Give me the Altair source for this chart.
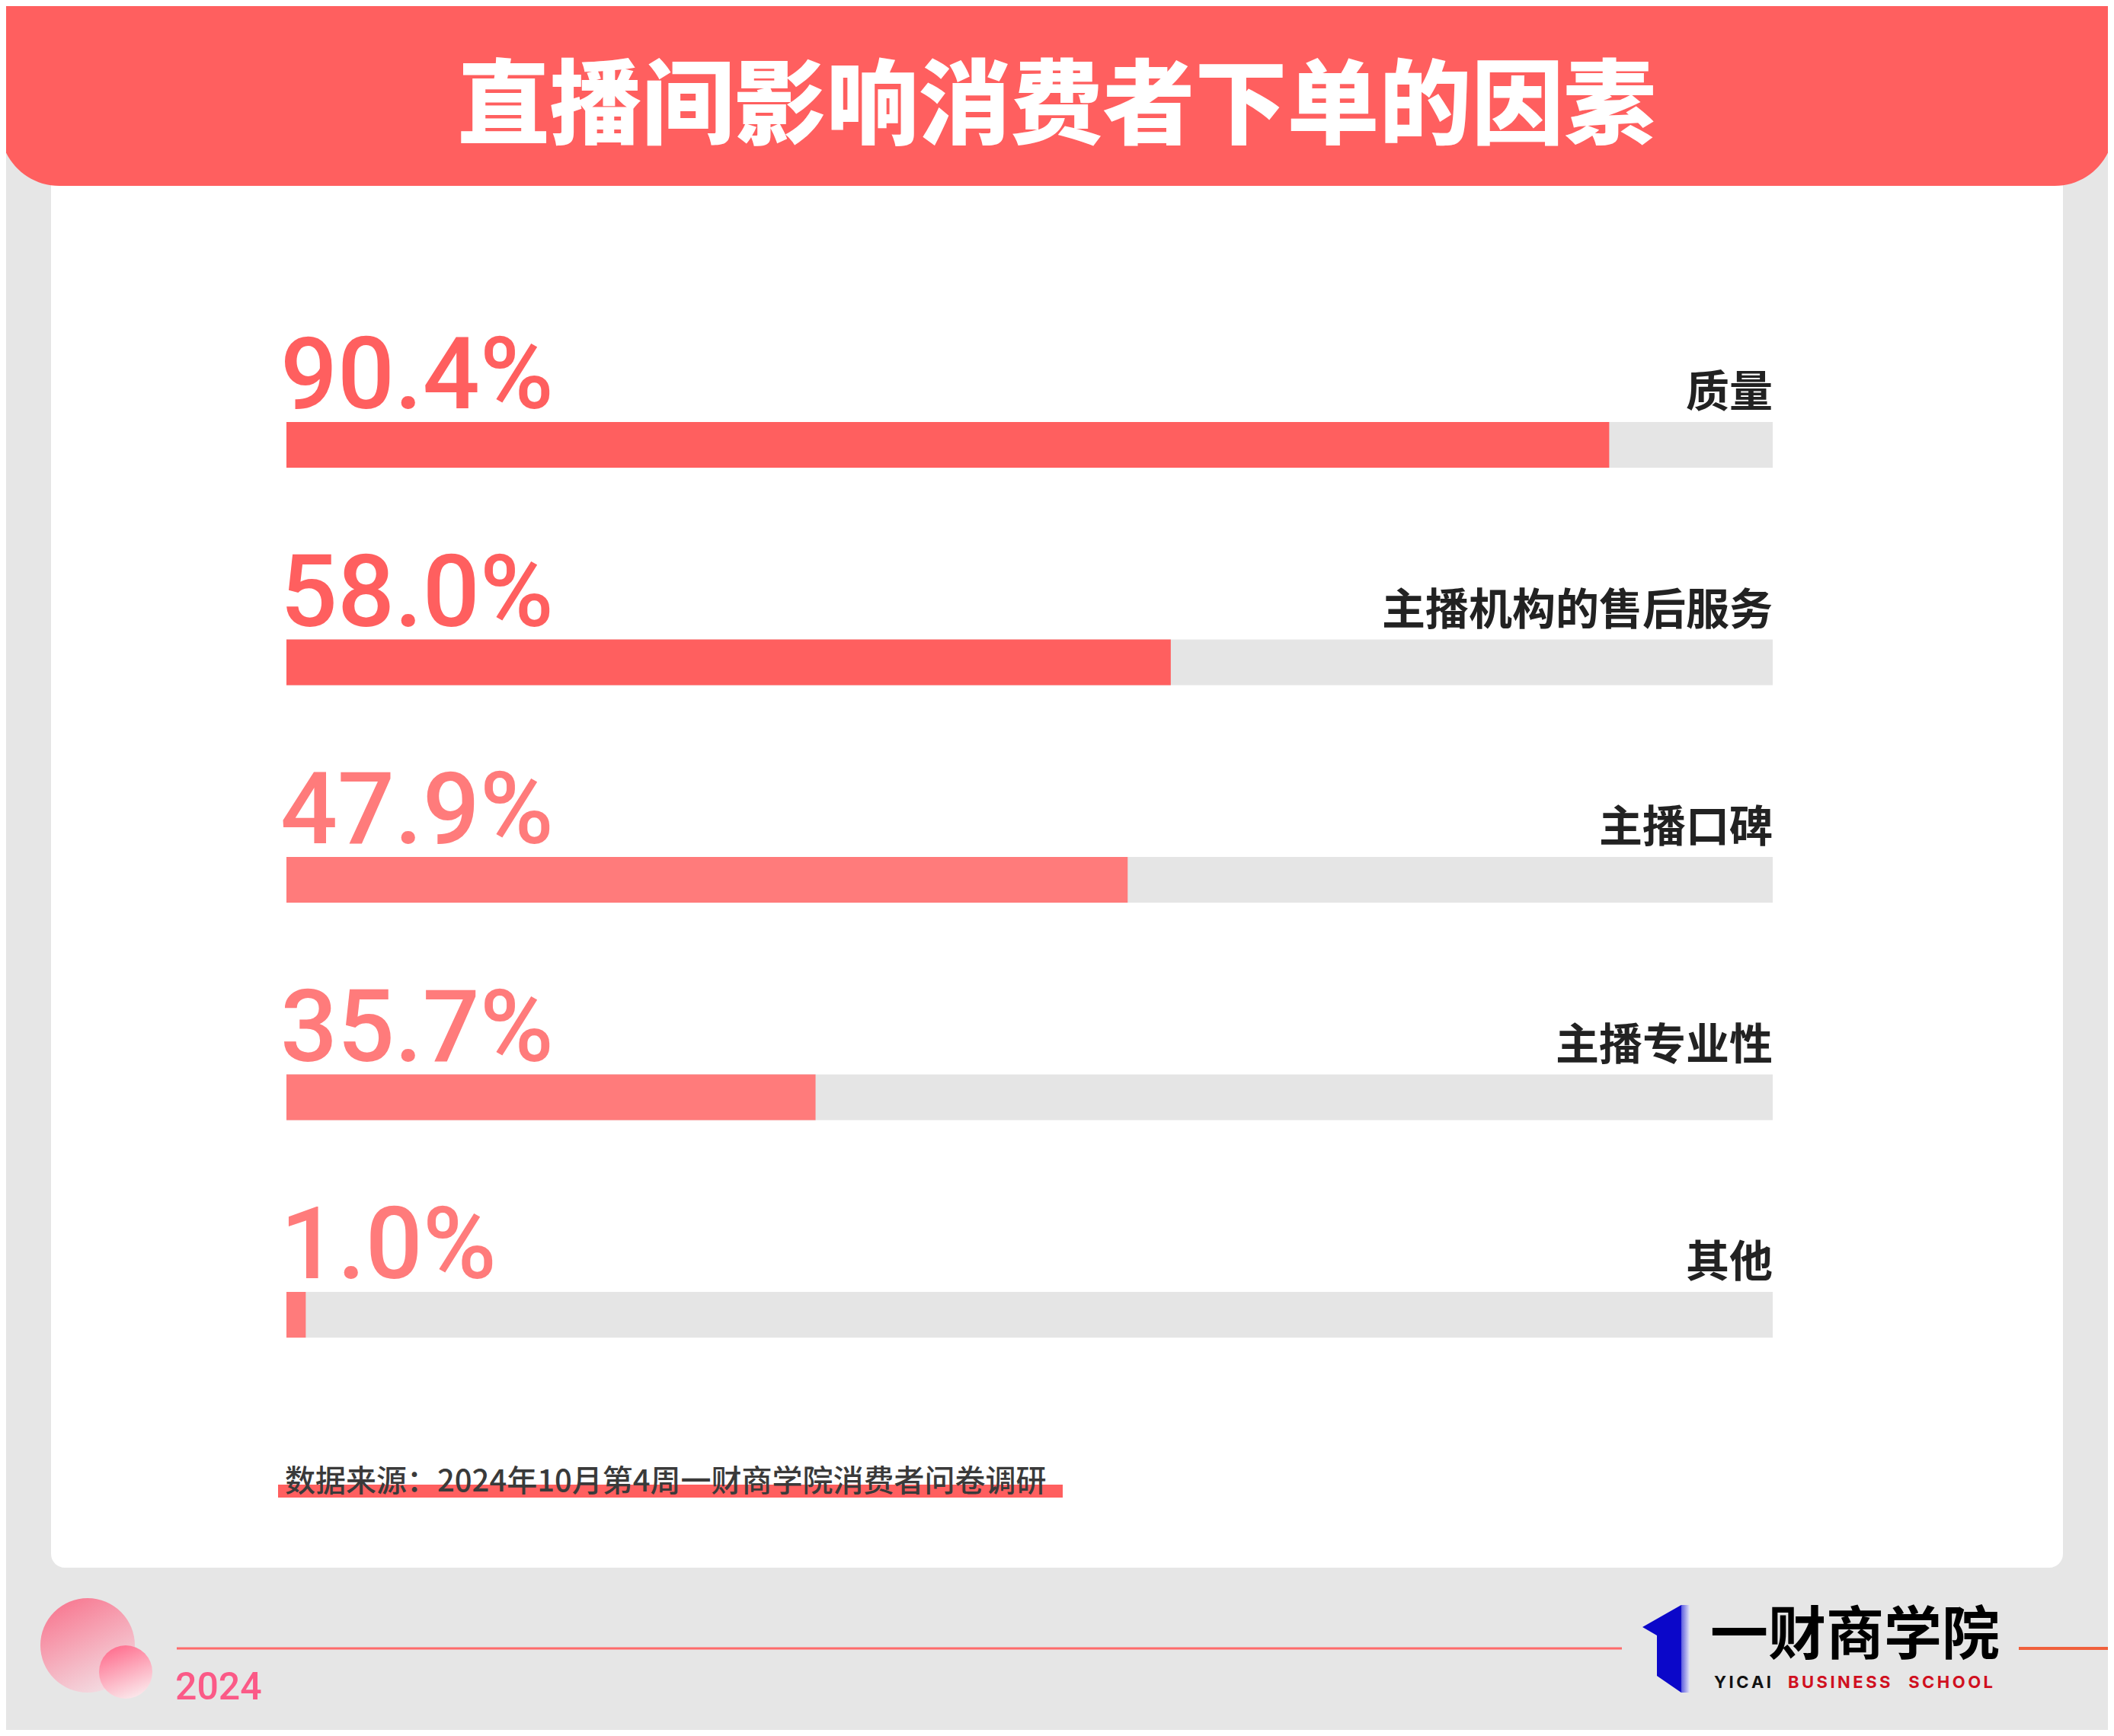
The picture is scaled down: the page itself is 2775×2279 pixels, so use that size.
import altair as alt
import pandas as pd

# ---- data ----
categories = ["质量", "主播机构的售后服务", "主播口碑", "主播专业性", "其他"]
values = [90.4, 58.0, 47.9, 35.7, 1.0]          # printed percentages
bar_lengths = [89.0, 59.5, 56.6, 35.6, 1.3]     # drawn bar lengths (% of track)

title_text = "直播间影响消费者下单的因素"
source_text = "数据来源：2024年10月第4周一财商学院消费者问卷调研"
year_text = "2024"
logo_cn = "一财商学院"
TS = "\u2009"  # thin space used as letter spacing
logo_en = ["YICAI", "BUSINESS", "SCHOOL"]

df = pd.DataFrame({"category": categories, "value": values, "bar": bar_lengths})

W, H = 2759, 2263
OFF = 8  # page margin offset

CJK = "Noto Sans CJK SC"
NUM = "Roboto"

xs = alt.Scale(domain=[0, 100], range=[376 - OFF, 2327 - OFF], nice=False, zero=False)
ys = alt.Scale(domain=[1, 5], range=[579 - OFF, 1731 - OFF], nice=False, zero=False)

base = alt.Chart(df).transform_window(row="row_number()").transform_calculate(
    zero="0", full="100", label="format(datum.value, '.1f') + '%'"
)

bar_color = alt.condition("datum.row <= 2", alt.value("#ff5f5f"), alt.value("#ff7b7b"))

track = base.mark_bar(size=60, orient="horizontal", color="#e5e5e5").encode(
    x=alt.X("zero:Q", scale=xs, axis=None),
    x2="full:Q",
    y=alt.Y("row:Q", scale=ys, axis=None),
)
bars = base.mark_bar(size=60, orient="horizontal").encode(
    x=alt.X("zero:Q", scale=xs, axis=None),
    x2="bar:Q",
    y=alt.Y("row:Q", scale=ys, axis=None),
    color=bar_color,
)
pct = base.mark_text(
    align="left", baseline="alphabetic", dx=-8, dy=-48,
    fontSize=132, font=NUM, fontWeight=500,
).encode(
    x=alt.X("zero:Q", scale=xs, axis=None),
    y=alt.Y("row:Q", scale=ys, axis=None),
    text="label:N",
    color=bar_color,
)
cat = base.mark_text(
    align="right", baseline="alphabetic", dy=-50,
    fontSize=57, font=CJK, fontWeight="bold", color="#222222",
).encode(
    x=alt.X("full:Q", scale=xs, axis=None),
    y=alt.Y("row:Q", scale=ys, axis=None),
    text="category:N",
)

one = alt.Chart(alt.Data(values=[{"k": 0}]))

panel = one.mark_rect(color="#ffffff", cornerRadius=18).encode(
    x=alt.value(67 - OFF), x2=alt.value(2708 - OFF),
    y=alt.value(-OFF), y2=alt.value(2058 - OFF),
)
header = one.mark_rect(
    color="#ff5f5f", cornerRadiusBottomLeft=78, cornerRadiusBottomRight=78
).encode(
    x=alt.value(-OFF), x2=alt.value(2775 - OFF),
    y=alt.value(-OFF), y2=alt.value(244 - OFF),
)
title = one.mark_text(
    text=title_text, align="center", baseline="middle",
    fontSize=121, font=CJK, fontWeight=900, color="#ffffff",
).encode(x=alt.value(1387 - OFF), y=alt.value(143 - OFF))

highlight = one.mark_rect(color="#ff5f5f").encode(
    x=alt.value(365 - OFF), x2=alt.value(1395 - OFF),
    y=alt.value(1949 - OFF), y2=alt.value(1966 - OFF),
)
source = one.mark_text(
    text=source_text, align="left", baseline="middle",
    fontSize=40, font=CJK, fontWeight=500, color="#3a3a3a",
).encode(x=alt.value(374 - OFF), y=alt.value(1946 - OFF))

# footer decorations
grad_big = {
    "gradient": "linear", "x1": 0.2, "y1": 0, "x2": 0.7, "y2": 1,
    "stops": [{"offset": 0, "color": "#f8768f"}, {"offset": 1, "color": "#f3dde3"}],
}
grad_small = {
    "gradient": "linear", "x1": 0.2, "y1": 0, "x2": 0.6, "y2": 1,
    "stops": [{"offset": 0, "color": "#ff6a8b"}, {"offset": 1, "color": "#fbe6ea"}],
}
circle_big = one.mark_circle(size=15376, fill=grad_big, opacity=1).encode(
    x=alt.value(115 - OFF), y=alt.value(2160 - OFF)
)
circle_small = one.mark_circle(size=4900, fill=grad_small, opacity=1).encode(
    x=alt.value(165 - OFF), y=alt.value(2195 - OFF)
)
line_left = one.mark_rule(color="#ff6b6b", strokeWidth=3).encode(
    x=alt.value(232 - OFF), x2=alt.value(2129 - OFF), y=alt.value(2164 - OFF)
)
line_right = one.mark_rule(color="#f0603c", strokeWidth=4).encode(
    x=alt.value(2650 - OFF), x2=alt.value(2775 - OFF), y=alt.value(2164 - OFF)
)
year = one.mark_text(
    text=year_text, align="left", baseline="alphabetic",
    fontSize=50, font=NUM, fontWeight=500, color="#fb5a87",
).encode(x=alt.value(230 - OFF), y=alt.value(2231 - OFF))

logo_path = "M -0.443 -0.496 L 0.443 -1 L 0.443 1 L -0.113 0.617 L -0.113 -0.304 Z"
logo_mark = one.mark_point(
    shape=logo_path, filled=True, fill="#0b07c9", size=13225, strokeWidth=0, opacity=1
).encode(x=alt.value(2181.5 - OFF), y=alt.value(2164.5 - OFF))
logo_strip = one.mark_rect(
    fill={
        "gradient": "linear", "x1": 0, "y1": 0, "x2": 1, "y2": 0,
        "stops": [{"offset": 0, "color": "#5a5ae0"}, {"offset": 1, "color": "#e4e4f6"}],
    }
).encode(
    x=alt.value(2207 - OFF), x2=alt.value(2218 - OFF),
    y=alt.value(2107 - OFF), y2=alt.value(2222 - OFF),
)
logo_text = one.mark_text(
    text=logo_cn, align="left", baseline="middle",
    fontSize=76, font=CJK, fontWeight="bold", color="#000000",
).encode(x=alt.value(2245 - OFF), y=alt.value(2149 - OFF))
en1 = one.mark_text(
    text=TS.join(logo_en[0]), align="left", baseline="alphabetic",
    fontSize=22, font="Inter", fontWeight="bold", color="#111111",
).encode(x=alt.value(2250 - OFF), y=alt.value(2216 - OFF))
en2 = one.mark_text(
    text=TS.join(logo_en[1]), align="left", baseline="alphabetic",
    fontSize=22, font="Inter", fontWeight="bold", color="#d0101f",
).encode(x=alt.value(2347 - OFF), y=alt.value(2216 - OFF))
en3 = one.mark_text(
    text=TS.join(logo_en[2]), align="right", baseline="alphabetic",
    fontSize=22, font="Inter", fontWeight="bold", color="#d0101f",
).encode(x=alt.value(2616 - OFF), y=alt.value(2216 - OFF))

chart = alt.layer(
    panel, header, title,
    track, bars, pct, cat,
    highlight, source,
    circle_big, circle_small, line_left, line_right, year,
    logo_mark, logo_strip, logo_text, en1, en2, en3,
).properties(
    width=W, height=H,
    autosize=alt.AutoSizeParams(type="none"),
    padding=0,
    background="#e6e6e6",
).configure_view(stroke=None)

chart.save("out.html", embed_options={"renderer": "svg", "actions": False})
